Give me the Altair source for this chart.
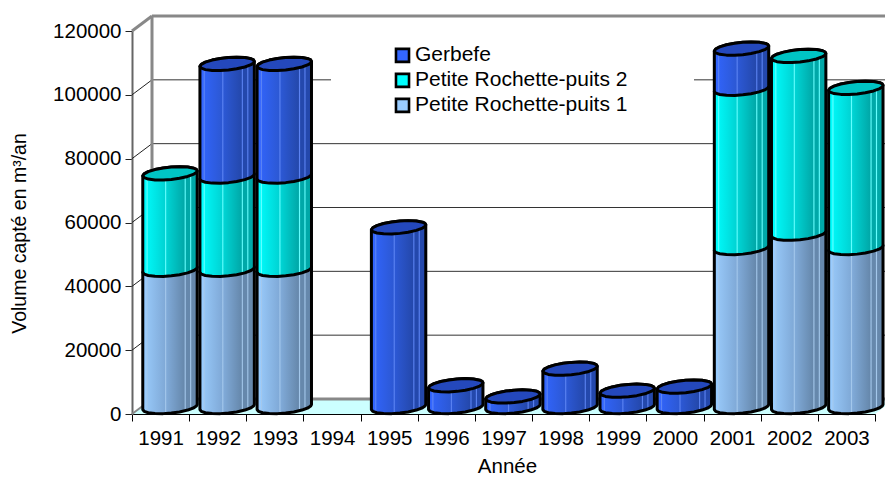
import math
import altair as alt
import pandas as pd

years = ["1991","1992","1993","1994","1995","1996","1997","1998","1999","2000","2001","2002","2003"]
puits1 = [43000,43000,43000,0,0,0,0,0,0,0,49800,54300,49800]
puits2 = [30200,29200,29200,0,0,0,0,0,0,0,49900,55700,50200]
gerbefe = [0,35300,35300,0,56300,6800,3300,12000,5100,6400,12600,0,0]
series_names = ["Gerbefe","Petite Rochette-puits 2","Petite Rochette-puits 1"]
legend_colors = ["#3366FF","#00FFFF","#99CCFF"]
grid_values = [20000,40000,60000,80000,100000]

FONT = "Liberation Sans"
PW, PH = 743, 383
X_PX = 13 / PW
Y_PX = 120000 / PH
DEPTH_X = 20 * X_PX
DEPTH_Y = 15 * Y_PX
xs = alt.Scale(domain=[0, 13], nice=False, zero=False)
ys = alt.Scale(domain=[0, 120000], nice=False)
Y_AXIS = alt.Axis(title="Volume capté en m³/an", values=[0] + grid_values + [120000],
                  format="d", tickSize=7, tickColor="#222222", domainColor="#666666",
                  domainWidth=2, labelPadding=4, grid=False, titleX=-103, titleY=202,
                  titleFontSize=19.5)

def grad(stops):
    return alt.LinearGradient(gradient="linear", x1=0, x2=1, y1=0, y2=0,
                              stops=[alt.GradientStop(offset=o, color=c) for o, c in stops])

def body_grad(l, lm, m, r, hi):
    return grad([(0, l), (0.06, l), (0.08, hi), (0.10, lm), (0.40, m), (0.42, hi), (0.44, m),
                 (0.76, r), (0.78, hi), (0.80, r), (0.86, r), (0.88, hi), (0.90, r), (1, r)])

G1 = body_grad("#99CCFF", "#94C4F4", "#80AAD8", "#6688AC", "#A4C8EC")
G2 = body_grad("#00FFFF", "#00F4F4", "#00D4D4", "#00A8A8", "#66FFFF")
G3 = body_grad("#3366FF", "#3062F4", "#2C58D4", "#2448AC", "#5C84F4")
CAP2 = "#00C4C4"
CAP3 = "#2448BC"

def X(field="x"):
    return alt.X(f"{field}:Q", scale=xs, axis=None)

def Y(field="y"):
    return alt.Y(f"{field}:Q", scale=ys, axis=Y_AXIS)

def rule(x0, v0, x1, v1, color, w):
    d = pd.DataFrame({"x": [x0], "x2": [x1], "y": [v0], "y2": [v1]})
    return alt.Chart(d).mark_rule(color=color, strokeWidth=w).encode(
        x=X(), x2="x2:Q", y=Y(), y2="y2:Q")

TS = [-1, -0.95, -0.8, -0.55, -0.25, 0.05, 0.35, 0.65, 0.88, 0.97, 1]
A = 27.2 * X_PX
B = 6.2 * Y_PX
TILT = 2.5 * Y_PX
OFF_X = 9.4 * X_PX
OFF_Y = 7 * Y_PX

def shape(i, lo, hi):
    rows = []
    cx = i + 0.5 + OFF_X
    for t in TS:
        h = B * math.sqrt(max(0, 1 - t * t))
        c = t * TILT + OFF_Y
        rows.append({"x": cx + A * t, "y": hi + c + h, "y2": lo + c - h})
    return pd.DataFrame(rows)

def area(df, **kw):
    return alt.Chart(df).mark_area(stroke="black", strokeWidth=3, strokeJoin="round",
                                   interpolate="linear", **kw).encode(x=X(), y=Y(), y2="y2:Q")

layers = []
layers.append(
    alt.Chart(pd.DataFrame({"year": years, "y": [0] * 13})).mark_point(size=0, opacity=0).encode(
        x=alt.X("year:N", sort=years, scale=alt.Scale(type="band", paddingInner=0, paddingOuter=0),
                axis=alt.Axis(title="Année", tickBand="extent", labelAngle=0, tickSize=7,
                              tickColor="black", domainColor="black", domainWidth=1.2,
                              labelPadding=7, titlePadding=8, titleX=375, grid=False)),
        y=Y(),
    )
)
floor = pd.DataFrame({"x": [0, DEPTH_X, 13, 13 + DEPTH_X], "y": [0, 0, 0, DEPTH_Y],
                      "y2": [0, DEPTH_Y, DEPTH_Y, DEPTH_Y]})
layers.append(alt.Chart(floor).mark_area(color="#CCFFFF", interpolate="linear").encode(x=X(), y=Y(), y2="y2:Q"))
for v in grid_values:
    layers.append(rule(DEPTH_X, v + DEPTH_Y, 13.4, v + DEPTH_Y, "#333333", 1))
    layers.append(rule(0, v, DEPTH_X, v + DEPTH_Y, "#222222", 1))
layers.append(rule(DEPTH_X, DEPTH_Y, 13 + DEPTH_X, DEPTH_Y, "#888888", 3))
layers.append(rule(DEPTH_X, DEPTH_Y, DEPTH_X, 120000 + DEPTH_Y, "#888888", 3))
layers.append(rule(DEPTH_X, 120000 + DEPTH_Y, 13.4, 120000 + DEPTH_Y, "#888888", 3))
layers.append(rule(0, 120000, DEPTH_X, 120000 + DEPTH_Y, "#888888", 3))
layers.append(rule(0, 0, DEPTH_X, DEPTH_Y, "#888888", 2))
box = pd.DataFrame({"x": [199 * X_PX], "x2": [562 * X_PX], "y": [120000 - 10 * Y_PX], "y2": [120000 - 85 * Y_PX]})
layers.append(alt.Chart(box).mark_rect(color="white").encode(x=X(), x2="x2:Q", y=Y(), y2="y2:Q"))
for i in range(13):
    base = 0
    top_color = None
    for v, g, cap in ((puits1[i], G1, None), (puits2[i], G2, CAP2), (gerbefe[i], G3, CAP3)):
        if v <= 0:
            continue
        layers.append(area(shape(i, base, base + v), fill=g))
        base += v
        top_color = cap
    if top_color:
        layers.append(area(shape(i, base, base), fill=top_color))
layers.append(
    alt.Chart(pd.DataFrame({"s": series_names, "x": [1] * 3, "y": [1] * 3})).mark_point(
        filled=True, size=0).encode(
        x=X(), y=Y(),
        color=alt.Color("s:N", sort=series_names,
                        scale=alt.Scale(domain=series_names, range=legend_colors),
                        legend=alt.Legend(title=None, orient="none", legendX=260, legendY=12,
                                          symbolType="square", symbolSize=170, symbolOpacity=1,
                                          symbolStrokeColor="black", symbolStrokeWidth=2.6,
                                          labelFontSize=21, labelFont=FONT, labelColor="black",
                                          labelLimit=400, clipHeight=24.7,
                                          labelOffset=2, rowPadding=0, padding=0)),
    )
)

chart = alt.layer(*layers).resolve_scale(x="independent", color="independent").properties(
    width=PW, height=PH,
    autosize=alt.AutoSizeParams(type="none"),
    padding={"left": 124, "top": 23, "right": 10, "bottom": 62},
).configure_view(stroke=None).configure_axis(
    labelFont=FONT, titleFont=FONT, labelFontSize=20.5, titleFontSize=20.5,
    labelColor="black", titleColor="black", titleFontWeight="normal",
)

chart.save("out.html", embed_options={"renderer": "svg", "actions": False})
